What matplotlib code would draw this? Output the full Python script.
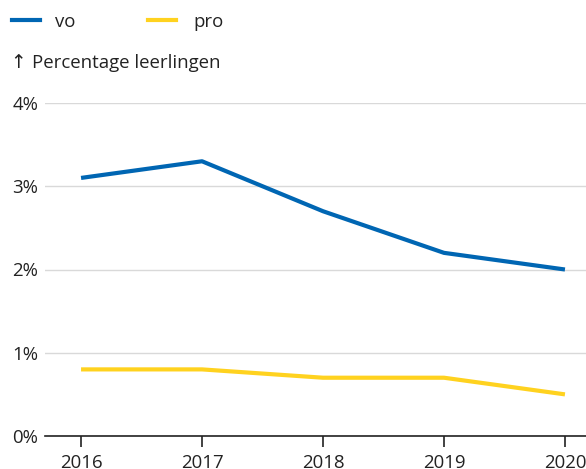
import matplotlib
matplotlib.use('Agg')
import matplotlib.pyplot as plt

jaren = [2016, 2017, 2018, 2019, 2020]
vo = [3.1, 3.3, 2.7, 2.2, 2.0]
pro = [0.8, 0.8, 0.7, 0.7, 0.5]
y_ticks = [0, 1, 2, 3, 4]
y_labels = ['0%', '1%', '2%', '3%', '4%']

blauw = '#0066b3'
geel = '#ffd21f'
fs = 13.4

plt.rcParams['font.family'] = ['Open Sans', 'DejaVu Sans']

fig = plt.figure(figsize=(5.86, 4.69), dpi=100)
ax = fig.add_axes([45 / 586, 33 / 469, 541 / 586, 333 / 469])

ax.plot(jaren, vo, color=blauw, lw=3, solid_capstyle='butt', zorder=3)
ax.plot(jaren, pro, color=geel, lw=3, solid_capstyle='butt', zorder=3)

ax.set_xlim(2015.702, 2020.174)
ax.set_ylim(0, 4)
ax.set_yticks(y_ticks)
ax.set_yticklabels(y_labels, fontsize=fs)
ax.set_xticks(jaren)
ax.set_xticklabels([str(j) for j in jaren], fontsize=fs)
ax.tick_params(axis='y', length=0, pad=5, colors='#222222')
ax.tick_params(axis='x', length=8, width=1.2, color='#222222', pad=5, labelcolor='#222222')
ax.grid(axis='y', color='#d9d9d9', lw=1, zorder=0)
for s in ['top', 'right', 'left']:
    ax.spines[s].set_visible(False)
ax.spines['bottom'].set_color('#222222')
ax.spines['bottom'].set_linewidth(1.2)

# legenda
fig.add_artist(plt.Line2D([12 / 586, 40 / 586], [1 - 20 / 469] * 2, color=blauw, lw=3))
fig.text(55 / 586, 1 - 22 / 469, 'vo', fontsize=fs, va='center', color='#222222')
fig.add_artist(plt.Line2D([148 / 586, 176 / 586], [1 - 20 / 469] * 2, color=geel, lw=3))
fig.text(193 / 586, 1 - 22 / 469, 'pro', fontsize=fs, va='center', color='#222222')

# as-titel
fig.text(10 / 586, 1 - 63 / 469, '\u2191', fontsize=fs, va='center', color='#222222',
         family=['DejaVu Sans'])
fig.text(32 / 586, 1 - 63 / 469, 'Percentage leerlingen', fontsize=fs, va='center', color='#222222')

fig.savefig('out.png', dpi=100)
